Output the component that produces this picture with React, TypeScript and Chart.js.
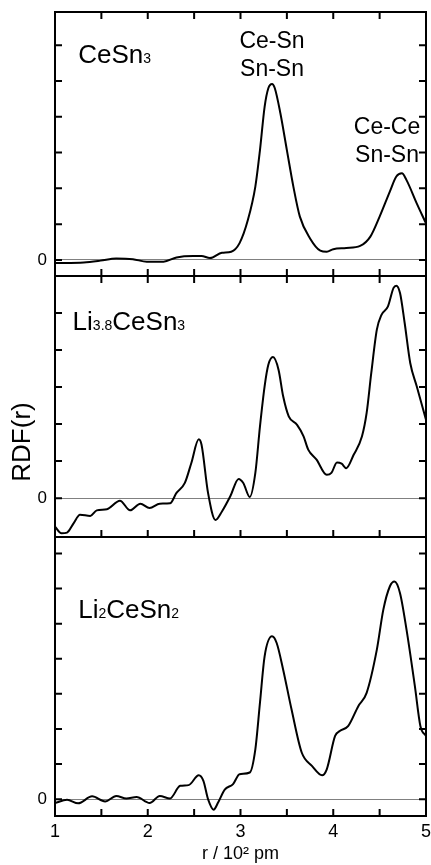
import { useEffect, useRef } from 'react';
import { Chart, registerables } from 'chart.js';

Chart.register(...registerables);

const FONT = '"Liberation Sans", Arial, Helvetica, sans-serif';

// ---- data (r in 10^2 pm, RDF in arbitrary units; tick step = 1) ----
const cesn3R = [1.0, 1.31, 1.49, 1.66, 1.84, 1.99, 2.17, 2.31, 2.49, 2.58, 2.67, 2.8, 2.9, 2.99, 3.08, 3.16, 3.21, 3.26, 3.3, 3.34, 3.37, 3.43, 3.5, 3.57, 3.64, 3.75, 3.86, 3.93, 4.0, 4.14, 4.29, 4.4, 4.5, 4.61, 4.68, 4.74, 4.79, 4.9, 5.0];
const cesn3V = [-0.09, -0.07, -0.02, 0.04, 0.02, -0.05, -0.05, 0.07, 0.11, 0.11, 0.05, 0.2, 0.23, 0.47, 1.12, 2.05, 3.07, 4.28, 4.8, 4.92, 4.8, 4.1, 3.07, 2.05, 1.21, 0.6, 0.26, 0.23, 0.3, 0.33, 0.39, 0.65, 1.21, 1.91, 2.33, 2.42, 2.23, 1.58, 1.02];

const li38R = [1.0, 1.07, 1.13, 1.2, 1.27, 1.38, 1.45, 1.56, 1.7, 1.81, 1.92, 2.02, 2.13, 2.24, 2.31, 2.4, 2.47, 2.55, 2.58, 2.65, 2.73, 2.8, 2.89, 2.98, 3.03, 3.1, 3.16, 3.21, 3.26, 3.3, 3.35, 3.41, 3.46, 3.52, 3.61, 3.68, 3.73, 3.82, 3.93, 3.98, 4.04, 4.09, 4.14, 4.22, 4.31, 4.36, 4.41, 4.47, 4.52, 4.59, 4.65, 4.68, 4.72, 4.77, 4.83, 4.9, 5.0];
const li38V = [-0.77, -0.95, -0.93, -0.68, -0.45, -0.48, -0.33, -0.3, -0.07, -0.33, -0.15, -0.27, -0.15, -0.14, 0.14, 0.41, 0.95, 1.59, 1.44, 0.14, -0.59, -0.36, 0.05, 0.52, 0.41, 0.03, 0.68, 1.94, 3.02, 3.6, 3.81, 3.47, 2.75, 2.21, 1.98, 1.67, 1.31, 1.04, 0.63, 0.68, 0.96, 0.93, 0.81, 1.17, 1.67, 2.3, 3.38, 4.55, 4.95, 5.18, 5.68, 5.74, 5.54, 4.73, 3.65, 3.02, 2.12];

const li2R = [1.0, 1.13, 1.25, 1.4, 1.54, 1.66, 1.77, 1.88, 2.02, 2.13, 2.24, 2.35, 2.44, 2.55, 2.6, 2.65, 2.71, 2.76, 2.83, 2.92, 2.99, 3.1, 3.16, 3.21, 3.26, 3.34, 3.39, 3.46, 3.55, 3.66, 3.77, 3.88, 3.93, 4.02, 4.07, 4.16, 4.27, 4.36, 4.47, 4.54, 4.61, 4.66, 4.72, 4.79, 4.88, 4.94, 5.0];
const li2V = [-0.11, -0.02, -0.12, 0.08, -0.07, 0.09, 0.02, 0.06, -0.11, 0.09, 0.02, 0.38, 0.4, 0.68, 0.52, 0.0, -0.3, -0.09, 0.27, 0.43, 0.71, 0.76, 1.42, 2.75, 4.07, 4.64, 4.45, 3.69, 2.56, 1.33, 0.95, 0.68, 0.85, 1.8, 1.94, 2.08, 2.65, 3.03, 4.26, 5.4, 6.06, 6.2, 5.87, 4.83, 3.22, 2.08, 1.8];

const xTickLabels = ['1', '2', '3', '4', '5'];
const xTitle = 'r / 10² pm';
const yTitle = 'RDF(r)';

type Part = { t: string; sub?: boolean };
const label1: Part[] = [{ t: 'CeSn' }, { t: '3', sub: true }];
const label2: Part[] = [{ t: 'Li' }, { t: '3.8', sub: true }, { t: 'CeSn' }, { t: '3', sub: true }];
const label3: Part[] = [{ t: 'Li' }, { t: '2', sub: true }, { t: 'CeSn' }, { t: '2', sub: true }];
const annPeak1 = ['Ce-Sn', 'Sn-Sn'];
const annPeak2 = ['Ce-Ce', 'Sn-Sn'];

const W = 431;
const H = 865;

type Panel = {
  r: number[];
  v: number[];
  yMin: number;
  yMax: number;
  top: number;
  bottom: number;
  topTicks: boolean;
  bottomTicks: boolean;
  showX: boolean;
  label: Part[];
  labelPos: [number, number];
  anns?: { lines: string[]; x: number; y: number; align: CanvasTextAlign }[];
  yTitle?: { x: number; y: number };
};

const panels: Panel[] = [
  {
    r: cesn3R, v: cesn3V, yMin: -0.45, yMax: 6.93, top: 12, bottom: 276,
    topTicks: true, bottomTicks: true, showX: false, label: label1, labelPos: [1.25, 5.5],
    anns: [
      { lines: annPeak1, x: 3.34, y: 6.1, align: 'center' },
      { lines: annPeak2, x: 4.58, y: 3.7, align: 'center' },
    ],
  },
  {
    r: li38R, v: li38V, yMin: -1.05, yMax: 6.0, top: 276, bottom: 537,
    topTicks: true, bottomTicks: true, showX: false, label: label2, labelPos: [1.19, 4.55],
    yTitle: { x: 23, y: 442 },
  },
  {
    r: li2R, v: li2V, yMin: -0.48, yMax: 7.47, top: 537, bottom: 816,
    topTicks: false, bottomTicks: true, showX: true, label: label3, labelPos: [1.25, 5.17],
  },
];

function drawRich(ctx: CanvasRenderingContext2D, parts: Part[], x: number, y: number) {
  let cx = x;
  ctx.textAlign = 'left';
  ctx.textBaseline = 'alphabetic';
  for (const p of parts) {
    ctx.font = p.sub ? `14px ${FONT}` : `26px ${FONT}`;
    ctx.fillText(p.t, cx, y);
    cx += ctx.measureText(p.t).width;
  }
}

const framePlugin = {
  id: 'frame',
  afterDraw(chart: any, _args: any, opts: any) {
    const p: Panel = opts.panel;
    const { ctx, chartArea } = chart;
    const { left, right, top, bottom } = chartArea;
    const xs = chart.scales.x;
    const ys = chart.scales.y;
    const TL = 7;
    ctx.save();
    ctx.strokeStyle = '#000';
    ctx.lineWidth = 2;
    ctx.strokeRect(left, top, right - left, bottom - top);
    ctx.beginPath();
    xs.ticks.forEach((t: any) => {
      const px = xs.getPixelForValue(t.value);
      if (px - left < 3 || right - px < 3) return;
      if (p.topTicks) { ctx.moveTo(px, top); ctx.lineTo(px, top + TL); }
      if (p.bottomTicks) { ctx.moveTo(px, bottom); ctx.lineTo(px, bottom - TL); }
    });
    ys.ticks.forEach((t: any) => {
      if (Math.abs(t.value - Math.round(t.value)) > 1e-6) return;
      const py = ys.getPixelForValue(t.value);
      if (py - top < 4 || bottom - py < 4) return;
      ctx.moveTo(left, py); ctx.lineTo(left + TL, py);
      ctx.moveTo(right, py); ctx.lineTo(right - TL, py);
    });
    ctx.stroke();

    ctx.fillStyle = '#000';
    drawRich(ctx, p.label, xs.getPixelForValue(p.labelPos[0]), ys.getPixelForValue(p.labelPos[1]));

    if (p.anns) {
      ctx.font = `23px ${FONT}`;
      ctx.textBaseline = 'middle';
      p.anns.forEach((a) => {
        ctx.textAlign = a.align;
        const ax = xs.getPixelForValue(a.x);
        const ay = ys.getPixelForValue(a.y);
        a.lines.forEach((ln, i) => ctx.fillText(ln, ax, ay + i * 28));
      });
    }

    if (p.yTitle) {
      ctx.translate(p.yTitle.x, p.yTitle.y);
      ctx.rotate(-Math.PI / 2);
      ctx.font = `26px ${FONT}`;
      ctx.textAlign = 'center';
      ctx.textBaseline = 'middle';
      ctx.fillText(yTitle, 0, 0);
    }
    ctx.restore();
  },
};

function PanelChart({ p }: { p: Panel }) {
  const ref = useRef<HTMLCanvasElement>(null);
  useEffect(() => {
    if (!ref.current) return;
    const data = p.r.map((r, i) => ({ x: r, y: p.v[i] }));
    const chart = new Chart(ref.current, {
      type: 'line',
      data: {
        datasets: [{
          data,
          borderColor: '#000',
          borderWidth: 2,
          pointRadius: 0,
          cubicInterpolationMode: 'monotone',
          fill: false,
        }],
      },
      options: {
        responsive: false,
        animation: false,
        events: [],
        layout: { padding: { top: p.top, bottom: p.showX ? 0 : H - p.bottom, left: 0, right: 5 } },
        plugins: {
          legend: { display: false },
          tooltip: { enabled: false },
          frame: { panel: p },
        } as any,
        scales: {
          x: {
            type: 'linear',
            min: 1,
            max: 5,
            display: true,
            afterFit: (s: any) => {
              s.height = p.showX ? H - p.bottom : 0;
              s.paddingLeft = 0;
              s.paddingRight = 0;
            },
            ticks: {
              display: p.showX,
              stepSize: 0.5,
              autoSkip: false,
              includeBounds: false,
              maxRotation: 0,
              padding: 5,
              color: '#000',
              font: { family: FONT, size: 18 },
              callback: (v: any) => {
                const n = Number(v);
                return Number.isInteger(n) ? xTickLabels[n - 1] : '';
              },
            },
            grid: { display: false, drawTicks: false },
            border: { display: false },
            title: {
              display: p.showX,
              text: xTitle,
              color: '#000',
              font: { family: FONT, size: 18 },
              padding: { top: 0, bottom: 0 },
            },
          },
          y: {
            type: 'linear',
            min: p.yMin,
            max: p.yMax,
            afterFit: (s: any) => {
              s.width = 55;
              s.paddingTop = 0;
              s.paddingBottom = 0;
            },
            ticks: {
              stepSize: 1,
              includeBounds: false,
              padding: 8,
              color: '#000',
              font: { family: FONT, size: 17 },
              callback: (v: any) => (Number(v) === 0 ? '0' : ''),
            },
            grid: {
              drawTicks: false,
              lineWidth: 1,
              color: (c: any) => (c.tick && c.tick.value === 0 ? '#808080' : 'rgba(0,0,0,0)'),
            },
            border: { display: false },
          },
        },
      },
      plugins: [framePlugin],
    });
    return () => chart.destroy();
  }, [p]);
  return (
    <canvas
      ref={ref}
      width={W}
      height={H}
      style={{ position: 'absolute', left: 0, top: 0, width: W, height: H }}
    />
  );
}

export default function App() {
  return (
    <div style={{ position: 'absolute', left: 0, top: 0, width: W, height: H, background: '#fff', overflow: 'hidden' }}>
      {panels.map((p, i) => (
        <PanelChart key={i} p={p} />
      ))}
    </div>
  );
}
